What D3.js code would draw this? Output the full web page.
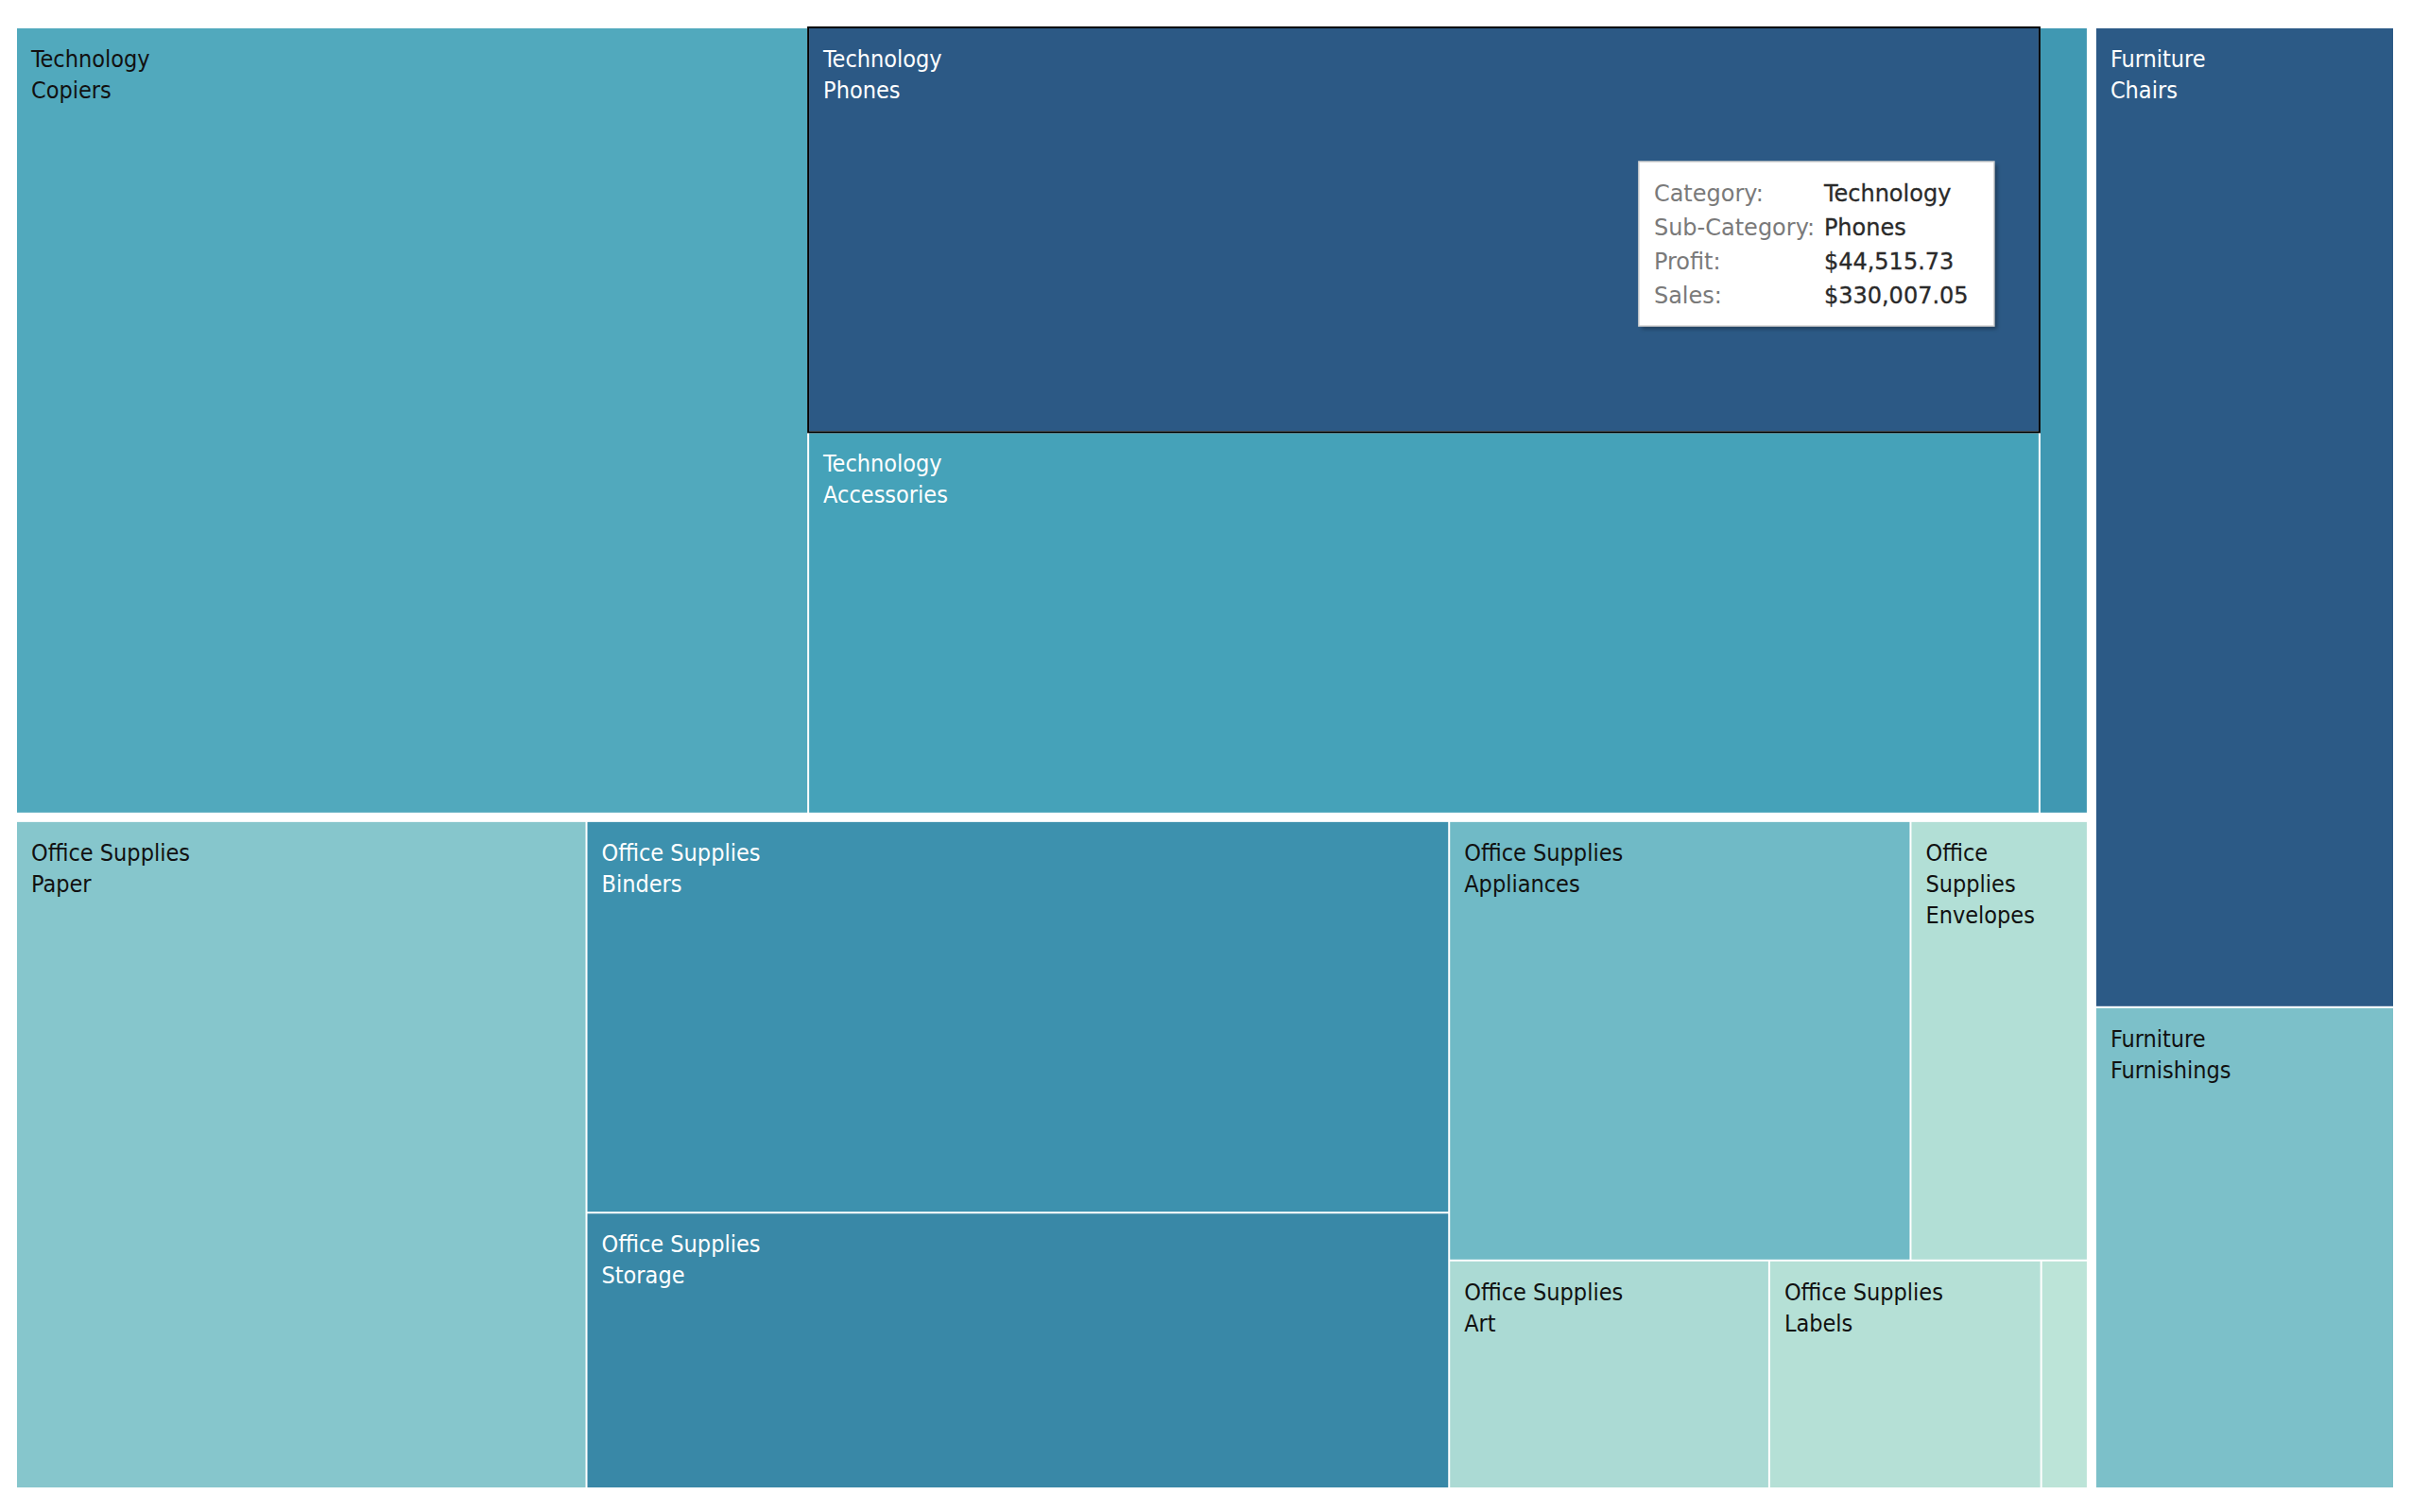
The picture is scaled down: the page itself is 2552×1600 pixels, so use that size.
<!DOCTYPE html>
<html>
<head>
<meta charset="utf-8">
<script src="https://cdn.jsdelivr.net/npm/d3@7"></script>
<style>
  html, body { margin: 0; padding: 0; background: #fff; }
  svg { display: block; }
</style>
</head>
<body>
<svg id="chart" width="2552" height="1600"></svg>
<script>
// ---- data (size = Profit, colour = Sales) ----
const categories = ["Technology","Technology","Technology","Technology",
  "Office Supplies","Office Supplies","Office Supplies","Office Supplies",
  "Office Supplies","Office Supplies","Office Supplies","Office Supplies",
  "Furniture","Furniture"];
const subCategories = ["Copiers","Phones","Accessories","Machines",
  "Paper","Binders","Storage","Appliances","Envelopes","Art","Labels","Fasteners",
  "Chairs","Furnishings"];
const profit = [55617.82, 44515.73, 41936.64, 3384.76,
  34053.57, 30221.76, 21278.83, 18138.01, 6964.18, 6527.79, 5546.25, 949.52,
  26590.17, 13059.14];
const sales = [149528.03, 330007.05, 167380.32, 189238.63,
  78479.21, 203412.73, 223843.61, 107532.16, 16476.40, 27118.79, 12486.31, 3024.28,
  328449.10, 91705.16];
const colorStops = ["#bce4d8", "#81c3cb", "#45a2b9", "#347da0", "#2c5985"];
const highlighted = "Phones";
const tooltipLabels = ["Category:", "Sub-Category:", "Profit:", "Sales:"];

// ---- layout ----
const marginLeft = 18, marginTop = 30, plotW = 2514, plotH = 1544;
const fontLabel = "'DejaVu Sans Condensed', 'DejaVu Sans', sans-serif";

const rowsData = subCategories.map((s, i) => ({
  category: categories[i], name: s, profit: profit[i], sales: sales[i]
}));
const catNames = Array.from(new Set(categories));
const treeData = { name: "root", children: catNames.map(c => ({
  name: c, children: rowsData.filter(r => r.category === c)
}))};

const rootNode = d3.hierarchy(treeData)
  .sum(d => d.profit || 0)
  .sort((a, b) => b.value - a.value);

d3.treemap()
  .tile(d3.treemapSquarify)
  .size([plotW, plotH])
  .paddingInner(n => n.depth === 0 ? 10 : 2)
  (rootNode);

const color = d3.scaleSequential(d3.piecewise(d3.interpolateRgb, colorStops))
  .domain(d3.extent(sales));

const svg = d3.select("#chart");
const g = svg.append("g").attr("transform", `translate(${marginLeft},${marginTop})`);

const leaves = rootNode.leaves();
const cell = g.selectAll("g.cell").data(leaves).join("g").attr("class", "cell");

cell.append("rect")
  .attr("x", d => d.x0).attr("y", d => d.y0)
  .attr("width", d => d.x1 - d.x0).attr("height", d => d.y1 - d.y0)
  .attr("fill", d => color(d.data.sales));

// labels with wrapping
const fs = 25, lh = 33, padX = 15, firstBase = 41;
const measurer = svg.append("text").attr("font-family", fontLabel).attr("font-size", fs)
  .attr("visibility", "hidden");
function textW(s) { measurer.text(s); return measurer.node().getComputedTextLength(); }
function wrap(str, maxW) {
  const words = str.split(" ");
  const lines = []; let cur = "";
  for (const w of words) {
    if (textW(w) > maxW) return null;
    const t = cur ? cur + " " + w : w;
    if (textW(t) <= maxW) cur = t; else { lines.push(cur); cur = w; }
  }
  if (cur) lines.push(cur);
  return lines;
}
cell.each(function(d) {
  const cw = d.x1 - d.x0 - 2 * padX;
  const ch = d.y1 - d.y0;
  const a = wrap(d.data.category, cw), b = wrap(d.data.name, cw);
  if (!a || !b) return;
  const lines = a.concat(b);
  if (firstBase + (lines.length - 1) * lh + 10 > ch) return;
  const c = d3.lab(color(d.data.sales));
  const fill = c.l < 63 ? "#ffffff" : "#111111";
  const t = d3.select(this).append("text")
    .attr("font-family", fontLabel).attr("font-size", fs).attr("fill", fill);
  lines.forEach((ln, i) => {
    t.append("tspan").attr("x", d.x0 + padX).attr("y", d.y0 + firstBase + i * lh).text(ln);
  });
});
measurer.remove();

// highlight border on selected cell
const hl = leaves.find(d => d.data.name === highlighted);
g.append("rect")
  .attr("x", hl.x0 - 1).attr("y", hl.y0 - 1)
  .attr("width", hl.x1 - hl.x0 + 2).attr("height", hl.y1 - hl.y0 + 2)
  .attr("fill", "none").attr("stroke", "#000").attr("stroke-width", 2);

// tooltip
const fmt = d3.format("$,.2f");
const tipVals = [hl.data.category, hl.data.name, fmt(hl.data.profit), fmt(hl.data.sales)];
const tx = hl.x1 - 423, ty = hl.y0 + 141, tw = 376, th = 174;
const defs = svg.append("defs");
const f = defs.append("filter").attr("id", "shadow").attr("x", "-10%").attr("y", "-10%")
  .attr("width", "130%").attr("height", "130%");
f.append("feGaussianBlur").attr("stdDeviation", 2);
const tip = g.append("g").attr("transform", `translate(${tx},${ty})`);
tip.append("rect").attr("x", 3).attr("y", 3).attr("width", tw).attr("height", th)
  .attr("fill", "rgba(0,0,0,0.35)").attr("filter", "url(#shadow)");
tip.append("rect").attr("x", 0).attr("y", 0).attr("width", tw).attr("height", th)
  .attr("fill", "#fff").attr("stroke", "#d0d0d0").attr("stroke-width", 1.5);
tooltipLabels.forEach((lab, i) => {
  tip.append("text").attr("x", 16).attr("y", 42 + i * 36)
    .attr("font-family", "'DejaVu Sans', sans-serif").attr("font-size", 24)
    .attr("fill", "#7a7a7a").text(lab);
  tip.append("text").attr("x", 196).attr("y", 42 + i * 36)
    .attr("font-family", "'DejaVu Sans', sans-serif").attr("font-size", 24)
    .attr("fill", "#2a2a2a").attr("stroke", "#2a2a2a").attr("stroke-width", 0.3)
    .text(tipVals[i]);
});
</script>
</body>
</html>
